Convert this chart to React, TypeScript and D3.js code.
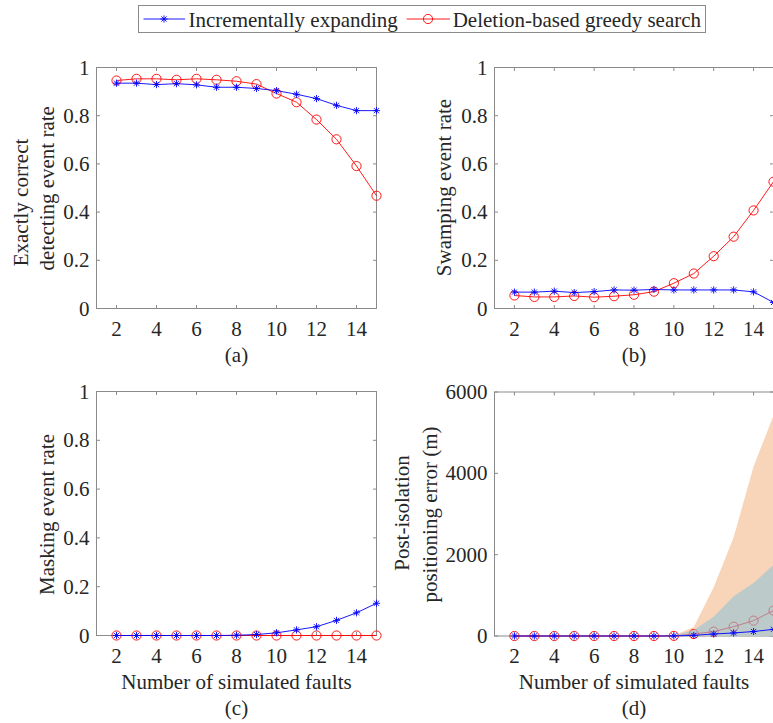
import React from 'react';
import * as d3 from 'd3';

const faults = [2, 3, 4, 5, 6, 7, 8, 9, 10, 11, 12, 13, 14, 15];
const xTicks = [2, 4, 6, 8, 10, 12, 14];
const rateTicks = [0, 0.2, 0.4, 0.6, 0.8, 1];
const rateTickLabels = ['0', '0.2', '0.4', '0.6', '0.8', '1'];
const errTicks = [0, 2000, 4000, 6000];
const errTickLabels = ['0', '2000', '4000', '6000'];

const seriesNames = ['Incrementally expanding', 'Deletion-based greedy search'];

const incCorrect = [0.935, 0.935, 0.929, 0.933, 0.928, 0.918, 0.918, 0.913, 0.904, 0.889, 0.871, 0.843, 0.821, 0.821];
const delCorrect = [0.946, 0.953, 0.953, 0.949, 0.953, 0.949, 0.943, 0.931, 0.892, 0.856, 0.784, 0.702, 0.591, 0.468];
const incSwamp = [0.068, 0.068, 0.072, 0.066, 0.07, 0.077, 0.076, 0.079, 0.077, 0.077, 0.077, 0.077, 0.069, 0.025];
const delSwamp = [0.054, 0.048, 0.048, 0.052, 0.047, 0.051, 0.057, 0.07, 0.105, 0.145, 0.217, 0.298, 0.407, 0.526];
const incMask = [0, 0, 0, 0, 0, 0, 0.001, 0.004, 0.011, 0.023, 0.036, 0.062, 0.093, 0.132];
const delMask = [0, 0, 0, 0, 0, 0, 0, 0, 0, 0, 0, 0, 0, 0];
const incErr = [0, 0, 0, 0, 0, 0, 0, 0, 2, 16, 49, 75, 110, 164];
const delErr = [0, 0, 0, 0, 0, 0, 0, 0, 3, 49, 107, 230, 378, 624];
const incErrUpper = [0, 0, 0, 0, 0, 0, 0, 0, 15, 150, 476, 975, 1305, 1748];
const delErrUpper = [0, 0, 0, 0, 0, 0, 0, 0, 15, 220, 1200, 2430, 4170, 5420];

const FONT = "'Liberation Serif', 'Times New Roman', serif";
const TEXT = '#262626';
const AXIS = '#8a8a8a';
const BLUE = '#0000ff';
const RED = '#ff0000';
const FS = 21;

type Box = { x0: number; x1: number; y0: number; y1: number };
type YLabel = { text: string; x: number; y: number };

function asterisk(x: number, y: number, s = 3.6) {
  const d = s * 0.72;
  return `M${x - s},${y}L${x + s},${y}M${x},${y - s}L${x},${y + s}M${x - d},${y - d}L${x + d},${y + d}M${x - d},${y + d}L${x + d},${y - d}`;
}

function Panel(props: {
  box: Box;
  yDomain: [number, number];
  yTicks: number[];
  yTickLabels: string[];
  inc: number[];
  del: number[];
  incUpper?: number[];
  delUpper?: number[];
  ylabels: YLabel[];
  xlabel?: string;
  caption: string;
}) {
  const { box, yDomain, yTicks, yTickLabels, inc, del, incUpper, delUpper, ylabels, xlabel, caption } = props;
  const x = d3.scaleLinear().domain([1, 15]).range([box.x0, box.x1]);
  const y = d3.scaleLinear().domain(yDomain).range([box.y1, box.y0]);
  const line = d3
    .line<number>()
    .x((_, i) => x(faults[i]))
    .y((v) => y(v));
  const area = d3
    .area<number>()
    .x((_, i) => x(faults[i]))
    .y0(() => y(0))
    .y1((v) => y(v));
  const tl = 3.5;
  const cx = (box.x0 + box.x1) / 2;
  return (
    <g>
      <rect x={box.x0} y={box.y0} width={box.x1 - box.x0} height={box.y1 - box.y0} fill="#fff" stroke={AXIS} strokeWidth={1} />
      {xTicks.map((t) => (
        <g key={'xt' + t}>
          <line x1={x(t)} x2={x(t)} y1={box.y1} y2={box.y1 - tl} stroke={AXIS} />
          <line x1={x(t)} x2={x(t)} y1={box.y0} y2={box.y0 + tl} stroke={AXIS} />
          <text x={x(t)} y={box.y1 + 27} textAnchor="middle" fontSize={FS} fill={TEXT} fontFamily={FONT}>
            {t}
          </text>
        </g>
      ))}
      {yTicks.map((t, i) => (
        <g key={'yt' + t}>
          <line x1={box.x0} x2={box.x0 + tl} y1={y(t)} y2={y(t)} stroke={AXIS} />
          <line x1={box.x1} x2={box.x1 - tl} y1={y(t)} y2={y(t)} stroke={AXIS} />
          <text x={box.x0 - 7} y={y(t) + 7} textAnchor="end" fontSize={FS} fill={TEXT} fontFamily={FONT}>
            {yTickLabels[i]}
          </text>
        </g>
      ))}
      {delUpper && <path d={area(delUpper) || ''} fill="#f8d5b9" stroke="none" />}
      <path d={line(del) || ''} fill="none" stroke={RED} strokeWidth={0.9} />
      {del.map((v, i) => (
        <circle key={'c' + i} cx={x(faults[i])} cy={y(v)} r={4.6} fill="none" stroke={RED} strokeWidth={0.9} />
      ))}
      {incUpper && <path d={area(incUpper) || ''} fill="rgb(150,195,213)" fillOpacity={0.6} stroke="none" />}
      <path d={line(inc) || ''} fill="none" stroke={BLUE} strokeWidth={0.9} />
      {inc.map((v, i) => (
        <path key={'s' + i} d={asterisk(x(faults[i]), y(v))} stroke={BLUE} strokeWidth={0.9} fill="none" />
      ))}
      {ylabels.map((l, i) => (
        <text
          key={'yl' + i}
          transform={`translate(${l.x},${l.y}) rotate(-90)`}
          textAnchor="middle"
          fontSize={FS}
          fill={TEXT}
          fontFamily={FONT}
        >
          {l.text}
        </text>
      ))}
      {xlabel && (
        <text x={cx} y={box.y1 + 53} textAnchor="middle" fontSize={FS} fill={TEXT} fontFamily={FONT}>
          {xlabel}
        </text>
      )}
      <text x={cx} y={box.y1 + (xlabel ? 79 : 53)} textAnchor="middle" fontSize={FS} fill={TEXT} fontFamily={FONT}>
        {caption}
      </text>
    </g>
  );
}

export default function App() {
  const xl = 'Number of simulated faults';
  return (
    <svg
      width={773}
      height={723}
      style={{ position: 'absolute', left: 0, top: 0, background: '#fff', overflow: 'hidden' }}
    >
      <rect x={0} y={0} width={773} height={723} fill="#fff" />
      <Panel
        box={{ x0: 96.5, x1: 376.5, y0: 67.5, y1: 308.5 }}
        yDomain={[0, 1]}
        yTicks={rateTicks}
        yTickLabels={rateTickLabels}
        inc={incCorrect}
        del={delCorrect}
        ylabels={[
          { text: 'Exactly correct', x: 28, y: 202.5 },
          { text: 'detecting event rate', x: 53.5, y: 188.3 },
        ]}
        caption="(a)"
      />
      <Panel
        box={{ x0: 494.5, x1: 773.5, y0: 67.5, y1: 308.5 }}
        yDomain={[0, 1]}
        yTicks={rateTicks}
        yTickLabels={rateTickLabels}
        inc={incSwamp}
        del={delSwamp}
        ylabels={[{ text: 'Swamping event rate', x: 451, y: 187.5 }]}
        caption="(b)"
      />
      <Panel
        box={{ x0: 96.5, x1: 376.5, y0: 391.5, y1: 635.5 }}
        yDomain={[0, 1]}
        yTicks={rateTicks}
        yTickLabels={rateTickLabels}
        inc={incMask}
        del={delMask}
        ylabels={[{ text: 'Masking event rate', x: 53.5, y: 514.5 }]}
        xlabel={xl}
        caption="(c)"
      />
      <Panel
        box={{ x0: 494.5, x1: 773.5, y0: 392, y1: 636 }}
        yDomain={[0, 6000]}
        yTicks={errTicks}
        yTickLabels={errTickLabels}
        inc={incErr}
        del={delErr}
        incUpper={incErrUpper}
        delUpper={delErrUpper}
        ylabels={[
          { text: 'Post-isolation', x: 409, y: 513 },
          { text: 'positioning error (m)', x: 436.5, y: 514.5 },
        ]}
        xlabel={xl}
        caption="(d)"
      />
      {/* Legend */}
      <g>
        <rect x={138.5} y={5.5} width={567} height={27} fill="#fff" stroke={AXIS} strokeWidth={1} />
        <line x1={143.5} x2={185} y1={19} y2={19} stroke={BLUE} strokeWidth={0.9} />
        <path d={asterisk(164, 19)} stroke={BLUE} strokeWidth={0.9} fill="none" />
        <text x={188.5} y={26.5} fontSize={FS} fill={TEXT} fontFamily={FONT}>
          {seriesNames[0]}
        </text>
        <line x1={406.7} x2={450} y1={19} y2={19} stroke={RED} strokeWidth={0.9} />
        <circle cx={428} cy={19} r={4.6} fill="none" stroke={RED} strokeWidth={0.9} />
        <text x={452.7} y={26.5} fontSize={FS} fill={TEXT} fontFamily={FONT}>
          {seriesNames[1]}
        </text>
      </g>
    </svg>
  );
}
